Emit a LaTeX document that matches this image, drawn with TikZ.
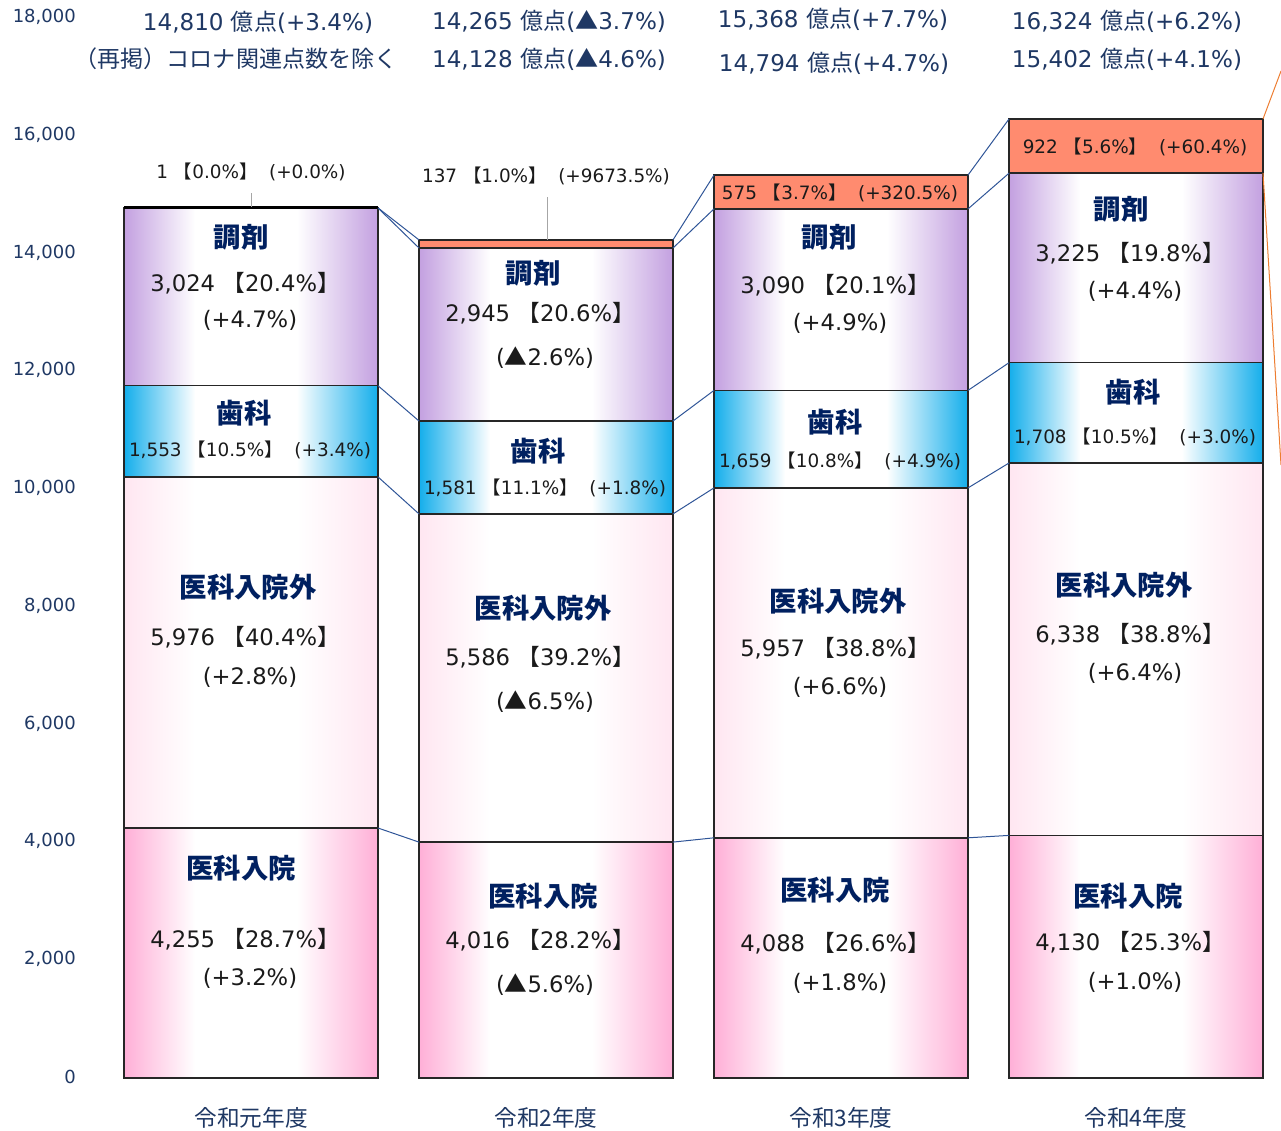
\documentclass[tikz,border=0pt]{standalone}
\usepackage{fontspec}
\setmainfont{DejaVu Sans}
\newfontfamily\jp{Noto Sans CJK JP}
\definecolor{cIn}{HTML}{FFAFD7}
\definecolor{cOut}{HTML}{FFE6F1}
\definecolor{cDen}{HTML}{14AEEB}
\definecolor{cPha}{HTML}{C3A0E0}
\definecolor{cCov}{HTML}{FF8B6F}
\definecolor{navy}{HTML}{1F3864}
\definecolor{catc}{HTML}{002060}
\definecolor{linkc}{HTML}{2F5597}
\definecolor{orangec}{HTML}{ED7D31}
\definecolor{numc}{HTML}{1A1A1A}
\pgfdeclarehorizontalshading{shIn}{100bp}{color(0bp)=(cIn); color(25bp)=(cIn); color(39bp)=(white); color(59bp)=(white); color(75bp)=(cIn); color(100bp)=(cIn)}
\pgfdeclarehorizontalshading{shOut}{100bp}{color(0bp)=(cOut); color(25bp)=(cOut); color(39bp)=(white); color(59bp)=(white); color(75bp)=(cOut); color(100bp)=(cOut)}
\pgfdeclarehorizontalshading{shDen}{100bp}{color(0bp)=(cDen); color(25bp)=(cDen); color(39bp)=(white); color(59bp)=(white); color(75bp)=(cDen); color(100bp)=(cDen)}
\pgfdeclarehorizontalshading{shPha}{100bp}{color(0bp)=(cPha); color(25bp)=(cPha); color(39bp)=(white); color(59bp)=(white); color(75bp)=(cPha); color(100bp)=(cPha)}
\newcommand\lb{{\jp 【}}
\newcommand\rb{{\jp 】}}
\newcommand\tri{{\jp ▲}}
% #1 id, #2 xL, #3..#7 boundary y values
\newcommand\drawbar[7]{%
  \coordinate (L#1-0) at (#2,1078);
  \coordinate (R#1-0) at ({#2+254},1078);
  \coordinate (L#1-1) at (#2,#3);
  \coordinate (R#1-1) at ({#2+254},#3);
  \coordinate (L#1-2) at (#2,#4);
  \coordinate (R#1-2) at ({#2+254},#4);
  \coordinate (L#1-3) at (#2,#5);
  \coordinate (R#1-3) at ({#2+254},#5);
  \coordinate (L#1-4) at (#2,#6);
  \coordinate (R#1-4) at ({#2+254},#6);
  \coordinate (L#1-5) at (#2,#7);
  \coordinate (R#1-5) at ({#2+254},#7);
  \shade[shading=shIn] (L#1-0) rectangle (R#1-1);
  \shade[shading=shOut] (L#1-1) rectangle (R#1-2);
  \shade[shading=shDen] (L#1-2) rectangle (R#1-3);
  \shade[shading=shPha] (L#1-3) rectangle (R#1-4);
  \fill[cCov] (L#1-4) rectangle (R#1-5);
  \draw[barline] (L#1-0) rectangle (R#1-5);
  \draw[barline] (L#1-1) -- (R#1-1);
  \draw[barline] (L#1-2) -- (R#1-2);
  \draw[barline] (L#1-3) -- (R#1-3);
  \draw[barline] (L#1-4) -- (R#1-4);
}
\begin{document}
\begin{tikzpicture}[x=0.75pt,y=-0.75pt,
  barline/.style={draw=black!85,line width=1.1pt},
  link/.style={draw=linkc,line width=0.75pt},
  leader/.style={draw=black!35,line width=0.75pt},
  orangeln/.style={draw=orangec,line width=0.75pt},
  cat/.style={font=\jp\bfseries\fontsize{20.5}{24}\selectfont,text=catc,inner sep=0pt},
  num/.style={font=\fontsize{17}{20}\selectfont,text=numc,inner sep=0pt},
  sm/.style={font=\fontsize{13.8}{16}\selectfont,text=numc,inner sep=0pt},
  hd/.style={font=\fontsize{17.3}{20}\selectfont,text=navy,inner sep=0pt},
  ax/.style={font=\fontsize{13.5}{16}\selectfont,text=navy,inner sep=0pt,anchor=east},
  bt/.style={font=\jp\fontsize{17}{20}\selectfont,text=navy,inner sep=0pt}]
\useasboundingbox (0,0) rectangle (1281,1131);
\begin{scope}
\clip (0,0) rectangle (1281,1131);
% bars
\drawbar{1}{124}{828.0}{476.9}{385.7}{208.0}{207.9}
\drawbar{2}{419}{842.1}{513.9}{421.0}{248.0}{239.9}
\drawbar{3}{714}{837.8}{487.9}{390.4}{208.9}{175.1}
\drawbar{4}{1009}{835.4}{463.0}{362.7}{173.2}{119.0}
\draw[black,line width=2.2pt] (L1-5) -- (R1-5);
% connectors
\foreach \i/\j in {1/2,2/3,3/4}{
  \foreach \k in {1,...,5}{
    \draw[link] (R\i-\k) -- (L\j-\k);
  }
}
\coordinate (o1) at (1281,71);
\coordinate (o2) at (1281,465);
\draw[orangeln] (R4-5) -- (o1);
\draw[orangeln] (R4-4) -- (o2);
\end{scope}
% axis labels
\node[ax] (a18) at (76,17) {18,000};
\node[ax] (a16) at (76,135) {16,000};
\node[ax] (a14) at (76,253) {14,000};
\node[ax] (a12) at (76,370) {12,000};
\node[ax] (a10) at (76,488) {10,000};
\node[ax] (a8) at (76,606) {8,000};
\node[ax] (a6) at (76,724) {6,000};
\node[ax] (a4) at (76,841) {4,000};
\node[ax] (a2) at (76,959) {2,000};
\node[ax] (a0) at (76,1077) {0};
% headers
\node[hd] (h1a) at (258,22) {14,810 {\jp 億点}(+3.4\%)};
\node[hd] (h1b) at (236,59) {\jp （再掲）コロナ関連点数を除く};
\node[hd] (h2a) at (549,21) {14,265 {\jp 億点}(\tri3.7\%)};
\node[hd] (h2b) at (549,59) {14,128 {\jp 億点}(\tri4.6\%)};
\node[hd] (h3a) at (833,19) {15,368 {\jp 億点}(+7.7\%)};
\node[hd] (h3b) at (834,63) {14,794 {\jp 億点}(+4.7\%)};
\node[hd] (h4a) at (1127,21) {16,324 {\jp 億点}(+6.2\%)};
\node[hd] (h4b) at (1127,59) {15,402 {\jp 億点}(+4.1\%)};
% top segment labels
\node[sm] (t1) at (251,172) {1 \lb0.0\%\rb\ \ (+0.0\%)};
\node[sm] (t2) at (546,176) {137 \lb1.0\%\rb\ \ (+9673.5\%)};
\node[sm] (t3) at (840,193) {575 \lb3.7\%\rb\ \ (+320.5\%)};
\node[sm] (t4) at (1135,147) {922 \lb5.6\%\rb\ \ (+60.4\%)};
\coordinate (k1) at (251,193);
\coordinate (m1) at (251,207);
\coordinate (k2) at (547,197);
\coordinate (m2) at (547,240);
\draw[leader] (k1) -- (m1);
\draw[leader] (k2) -- (m2);
% bar 1
\node[cat] (p1a) at (241,237) {調剤};
\node[num] (p1b) at (245,283) {3,024 \lb20.4\%\rb};
\node[num] (p1c) at (250,320) {(+4.7\%)};
\node[cat] (d1a) at (244,413) {歯科};
\node[sm] (d1b) at (250,450) {1,553 \lb10.5\%\rb\ \ (+3.4\%)};
\node[cat] (o1a) at (248,587) {医科入院外};
\node[num] (o1b) at (245,637) {5,976 \lb40.4\%\rb};
\node[num] (o1c) at (250,677) {(+2.8\%)};
\node[cat] (i1a) at (241,868) {医科入院};
\node[num] (i1b) at (245,939) {4,255 \lb28.7\%\rb};
\node[num] (i1c) at (250,978) {(+3.2\%)};
% bar 2
\node[cat] (p2a) at (533,273) {調剤};
\node[num] (p2b) at (540,313) {2,945 \lb20.6\%\rb};
\node[num] (p2c) at (545,358) {(\tri2.6\%)};
\node[cat] (d2a) at (538,451) {歯科};
\node[sm] (d2b) at (545,488) {1,581 \lb11.1\%\rb\ \ (+1.8\%)};
\node[cat] (o2a) at (543,608) {医科入院外};
\node[num] (o2b) at (540,657) {5,586 \lb39.2\%\rb};
\node[num] (o2c) at (545,702) {(\tri6.5\%)};
\node[cat] (i2a) at (543,896) {医科入院};
\node[num] (i2b) at (540,940) {4,016 \lb28.2\%\rb};
\node[num] (i2c) at (545,985) {(\tri5.6\%)};
% bar 3
\node[cat] (p3a) at (829,237) {調剤};
\node[num] (p3b) at (835,285) {3,090 \lb20.1\%\rb};
\node[num] (p3c) at (840,323) {(+4.9\%)};
\node[cat] (d3a) at (835,422) {歯科};
\node[sm] (d3b) at (840,461) {1,659 \lb10.8\%\rb\ \ (+4.9\%)};
\node[cat] (o3a) at (838,601) {医科入院外};
\node[num] (o3b) at (835,648) {5,957 \lb38.8\%\rb};
\node[num] (o3c) at (840,687) {(+6.6\%)};
\node[cat] (i3a) at (835,890) {医科入院};
\node[num] (i3b) at (835,943) {4,088 \lb26.6\%\rb};
\node[num] (i3c) at (840,983) {(+1.8\%)};
% bar 4
\node[cat] (p4a) at (1121,209) {調剤};
\node[num] (p4b) at (1130,253) {3,225 \lb19.8\%\rb};
\node[num] (p4c) at (1135,291) {(+4.4\%)};
\node[cat] (d4a) at (1133,392) {歯科};
\node[sm] (d4b) at (1135,437) {1,708 \lb10.5\%\rb\ \ (+3.0\%)};
\node[cat] (o4a) at (1124,585) {医科入院外};
\node[num] (o4b) at (1130,634) {6,338 \lb38.8\%\rb};
\node[num] (o4c) at (1135,673) {(+6.4\%)};
\node[cat] (i4a) at (1128,896) {医科入院};
\node[num] (i4b) at (1130,942) {4,130 \lb25.3\%\rb};
\node[num] (i4c) at (1135,982) {(+1.0\%)};
% bottom labels
\node[bt] (y1) at (251,1118) {令和元年度};
\node[bt] (y2) at (546,1118) {令和2年度};
\node[bt] (y3) at (841,1118) {令和3年度};
\node[bt] (y4) at (1136,1118) {令和4年度};
\end{tikzpicture}
\end{document}
